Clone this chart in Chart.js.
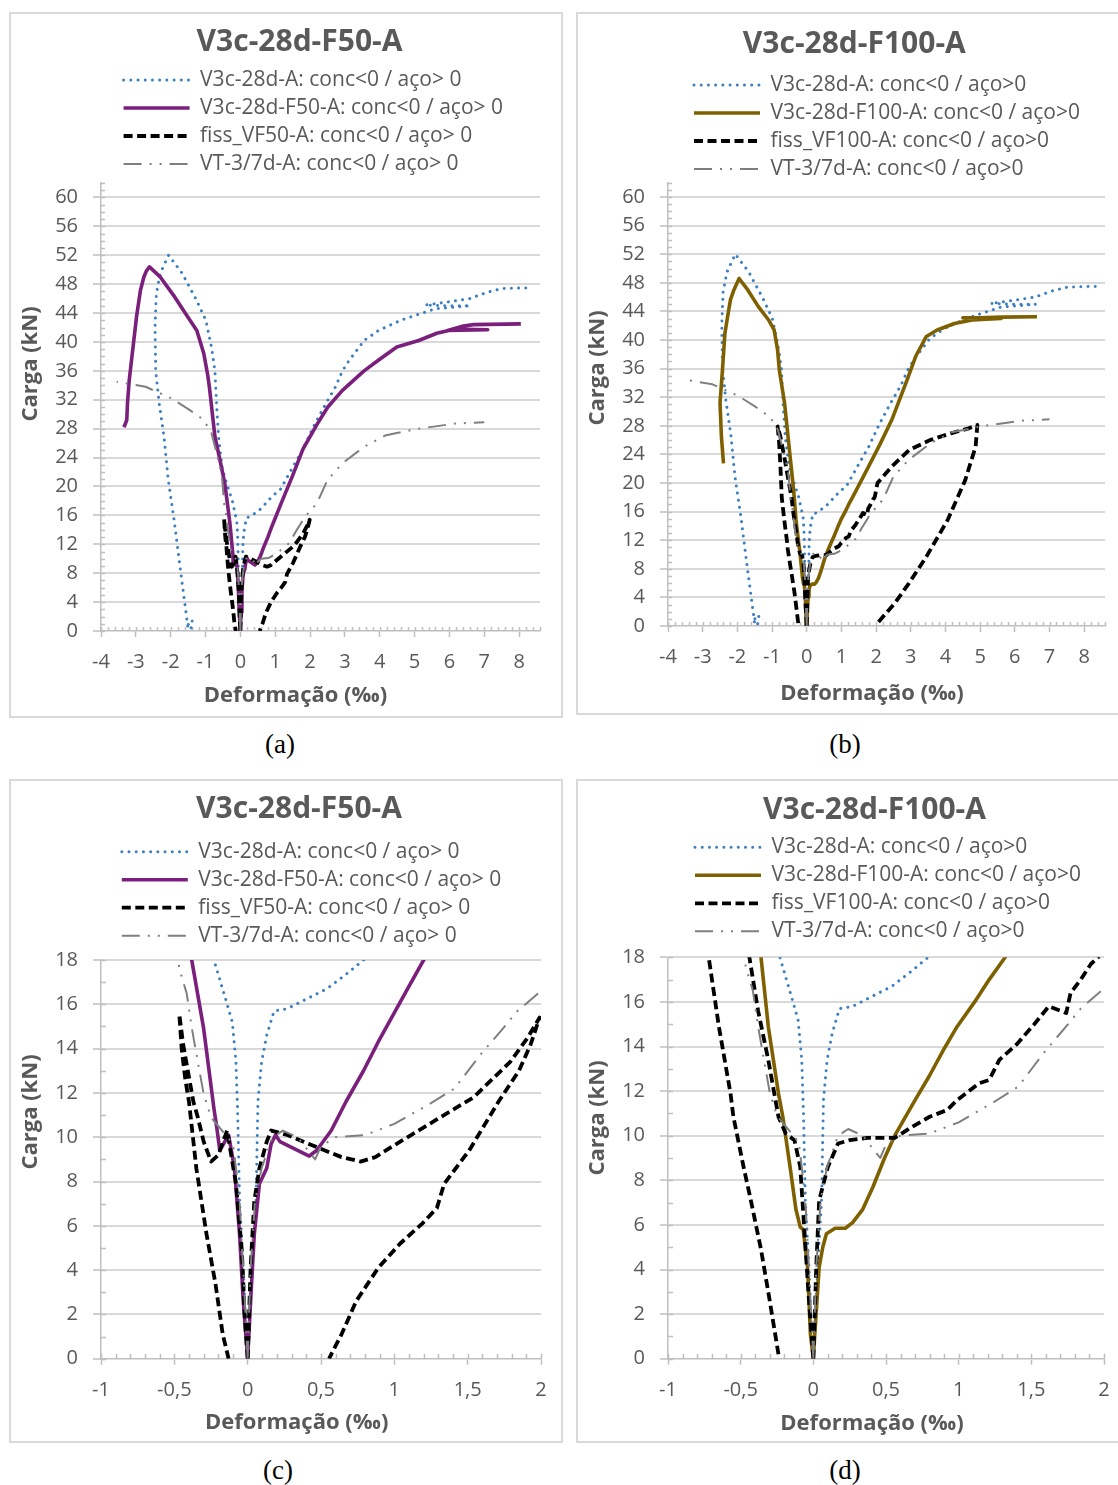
<!DOCTYPE html>
<html>
<head>
<meta charset="utf-8">
<script src="https://cdn.jsdelivr.net/npm/chart.js@4.4.1/dist/chart.umd.min.js"></script>
<style>
  html, body { margin: 0; padding: 0; background: #fff; }
  body { position: relative; width: 1118px; height: 1485px; overflow: hidden; }
  canvas { position: absolute; display: block; }
  .frame { position: absolute; box-sizing: border-box; border: 2px solid #d9d9d9; pointer-events: none; }
  .cap { position: absolute; width: 80px; text-align: center; font-family: 'Liberation Serif', 'Times New Roman', serif;
         font-size: 27px; line-height: 30px; color: #000; }
</style>
</head>
<body>
<canvas id="ca" width="552" height="705" style="left:10px;top:12px"></canvas>
<canvas id="cb" width="545" height="702" style="left:577px;top:12px"></canvas>
<canvas id="cc" width="552" height="663" style="left:10px;top:779px"></canvas>
<canvas id="cd" width="545" height="663" style="left:577px;top:779px"></canvas>
<div class="frame" style="left:9px;top:12px;width:554px;height:706px"></div>
<div class="frame" style="left:576px;top:12px;width:560px;height:703px"></div>
<div class="frame" style="left:9px;top:779px;width:554px;height:664px"></div>
<div class="frame" style="left:576px;top:779px;width:560px;height:664px"></div>
<div class="cap" style="left:240px;top:729px">(a)</div>
<div class="cap" style="left:805px;top:729px">(b)</div>
<div class="cap" style="left:238px;top:1455px">(c)</div>
<div class="cap" style="left:805px;top:1455px">(d)</div>

<script>
// ---- Tick values -------------------------------------------------------
const fullXTicks = [-4, -3, -2, -1, 0, 1, 2, 3, 4, 5, 6, 7, 8];
const fullYTicks = [0, 4, 8, 12, 16, 20, 24, 28, 32, 36, 40, 44, 48, 52, 56, 60];
const zoomXTicks = [-1, -0.5, 0, 0.5, 1, 1.5, 2];
const zoomYTicks = [0, 2, 4, 6, 8, 10, 12, 14, 16, 18];

// ---- Load (kN) vs strain (‰): [strain, load] --------------------------
// Reference beam V3c-28d-A, concrete gauge (negative) and steel gauge (positive)
const refConcrete = [[0,0],[-0.01,1.0],[-0.03,4.1],[-0.055,7.1],[-0.068,11.0],[-0.08,13.4],[-0.105,15.2],[-0.14,16.0],
  [-0.23,18.0],[-0.4,20.5],[-0.52,22.5],[-0.62,26.5],[-0.68,31.0],[-0.73,36.0],[-0.83,39.3],[-0.99,43.0],[-1.26,45.8],
  [-1.67,49.5],[-2.06,52.0],[-2.3,49.5],[-2.41,46.7],[-2.45,42.0],[-2.43,36.0],[-2.33,31.5],[-2.19,26.8],[-2.07,20.9],
  [-1.9,15.3],[-1.72,8.4],[-1.57,2.9],[-1.5,0.3],[-1.49,1.4],[-1.38,1.4],[-1.42,0.2]];
const refSteel = [[0,0],[0.01,1.0],[0.03,4.1],[0.057,7.1],[0.07,11.6],[0.095,13.4],[0.13,14.6],[0.18,15.7],[0.27,15.8],
  [0.42,16.3],[0.54,16.7],[0.67,17.35],[0.79,18.0],[0.95,18.8],[1.15,19.6],[1.46,22.3],[1.78,25.0],[2.09,28.2],[2.4,31.0],
  [2.72,33.7],[2.93,36.0],[3.13,37.5],[3.55,40.2],[3.97,41.6],[4.6,43.0],[5.22,44.0],[5.6,44.6],[6.6,45.0],[6.0,45.0],
  [5.3,45.1],[5.9,45.5],[6.58,46.0],[7.1,46.9],[7.52,47.4],[8.36,47.5]];

// Beam VT-3/7d-A
const vtConcrete = [[0,0],[-0.03,4.0],[-0.055,7.1],[-0.08,8.6],[-0.1,9.7],[-0.15,10.1],[-0.25,10.9],[-0.3,11.95],[-0.34,13.4],
  [-0.38,14.9],[-0.416,16.5],[-0.466,17.6],[-0.52,20.9],[-0.6,23.0],[-0.68,24.6],[-0.83,27.4],[-1.05,29.2],[-1.46,30.6],
  [-1.98,32.2],[-2.72,33.8],[-3.55,34.5]];
const vtSteel = [[0,0],[0.02,4.1],[0.05,7.1],[0.095,8.6],[0.17,10.0],[0.24,10.3],[0.34,10.0],[0.46,9.0],[0.5,9.6],[0.6,10.0],
  [0.8,10.1],[1.0,10.6],[1.24,11.5],[1.41,12.2],[1.59,13.75],[1.74,14.9],[1.84,15.7],[2.0,16.6],[2.2,17.7],[2.5,20.9],
  [2.93,23.2],[3.55,25.5],[4.18,27.1],[5.12,28.0],[6.16,28.7],[7.0,28.9]];

// Beam V3c-28d-F50-A
const f50Concrete = [[0,0],[-0.03,2.6],[-0.055,5.6],[-0.09,8.6],[-0.13,10.1],[-0.19,9.4],[-0.21,10.4],[-0.23,11.3],[-0.3,14.9],
  [-0.38,17.95],[-0.45,20.5],[-0.6,24.0],[-0.73,26.9],[-0.89,33.8],[-0.94,35.5],[-1.05,38.4],[-1.25,41.6],[-1.57,43.9],
  [-1.88,46.2],[-2.3,49.0],[-2.61,50.4],[-2.7,49.8],[-2.77,49.0],[-2.87,47.1],[-2.98,43.5],[-3.08,39.3],[-3.19,34.7],
  [-3.24,31.5],[-3.26,29.2],[-3.34,28.2]];
const f50Steel = [[0,0],[0.02,2.6],[0.045,5.6],[0.08,7.9],[0.13,8.6],[0.16,9.7],[0.19,10.1],[0.22,9.8],[0.42,9.15],[0.47,9.4],
  [0.57,10.3],[0.67,11.6],[0.79,13.0],[0.89,14.3],[0.99,15.5],[1.09,16.7],[1.2,18.0],[1.5,21.5],[1.8,25.2],[2.2,28.6],
  [2.51,31.0],[2.93,33.3],[3.55,36.0],[3.97,37.5],[4.49,39.3],[5.12,40.2],[5.64,41.2],[6.16,41.8],[7.1,41.7],[5.95,41.6],
  [6.4,42.2],[6.69,42.4],[8.05,42.5]];

// Cracked beam fiss_VF50-A (loading and unloading)
const fiss50Concrete = [[0,0],[-0.02,1.9],[-0.04,4.9],[-0.08,7.9],[-0.14,10.3],[-0.2,9.2],[-0.25,8.9],[-0.3,9.8],[-0.34,10.9],
  [-0.37,11.6],[-0.4,12.7],[-0.44,14.2],[-0.466,15.55],[-0.45,14.0],[-0.425,12.6],[-0.4,11.6],[-0.35,8.6],[-0.28,5.6],
  [-0.22,3.4],[-0.17,1.1],[-0.13,0]];
const fiss50Steel = [[0,0],[0.02,4.1],[0.045,7.1],[0.08,8.6],[0.13,9.8],[0.16,10.3],[0.27,10.1],[0.49,9.5],[0.64,9.1],
  [0.77,8.9],[0.87,9.1],[1.04,9.8],[1.29,10.8],[1.54,11.8],[1.79,13.4],[1.91,14.5],[1.99,15.4],[1.93,14.2],[1.85,13.0],
  [1.71,11.6],[1.51,9.4],[1.34,7.9],[1.29,6.8],[1.19,6.1],[1.04,5.2],[0.89,4.1],[0.74,2.6],[0.64,1.1],[0.555,0]];

// Beam V3c-28d-F100-A
const f100Concrete = [[0,0],[-0.02,1.1],[-0.04,4.1],[-0.07,5.8],[-0.09,5.9],[-0.12,6.7],[-0.16,8.6],[-0.21,10.85],[-0.24,11.9],
  [-0.31,14.9],[-0.36,18.0],[-0.42,21.0],[-0.49,24.2],[-0.64,31.2],[-0.79,35.8],[-0.84,38.6],[-0.94,41.4],[-1.1,42.8],
  [-1.4,44.7],[-1.7,47.0],[-1.95,48.6],[-2.1,47.0],[-2.2,45.6],[-2.25,44.2],[-2.36,40.9],[-2.43,35.8],[-2.5,31.2],
  [-2.46,26.5],[-2.4,22.75]];
const f100Steel = [[0,0],[0.01,1.1],[0.04,4.1],[0.065,5.0],[0.09,5.6],[0.15,5.85],[0.22,5.85],[0.27,6.1],[0.34,6.7],[0.41,7.7],
  [0.49,9.0],[0.56,10.0],[0.63,10.8],[0.7,11.6],[0.8,12.7],[0.9,13.9],[0.99,14.9],[1.11,16.0],[1.21,17.0],[1.32,18.0],
  [1.73,21.8],[2.1,25.3],[2.45,28.8],[2.9,34.5],[3.15,37.8],[3.45,40.5],[3.76,41.4],[4.26,42.3],[4.77,42.8],[5.6,43.0],
  [4.5,43.1],[5.0,43.1],[5.6,43.2],[6.64,43.25]];

// Cracked beam fiss_VF100-A (loading and unloading)
const fiss100Concrete = [[0,0],[-0.03,2.6],[-0.06,5.6],[-0.09,8.6],[-0.13,9.8],[-0.19,10.1],[-0.24,10.85],[-0.31,13.4],
  [-0.38,15.6],[-0.44,18.0],[-0.55,21.0],[-0.66,24.0],[-0.76,26.5],[-0.84,27.9],[-0.8,26.0],[-0.76,22.5],[-0.72,18.0],
  [-0.65,14.9],[-0.57,11.9],[-0.55,10.85],[-0.48,8.6],[-0.43,7.1],[-0.36,4.9],[-0.3,2.6],[-0.24,0.2]];
const fiss100Steel = [[0,0],[0.01,2.0],[0.02,4.1],[0.04,7.1],[0.1,8.6],[0.17,9.65],[0.25,9.8],[0.37,9.9],[0.56,9.9],
  [0.68,10.4],[0.8,10.85],[0.92,11.15],[0.99,11.6],[1.14,12.35],[1.21,12.5],[1.28,13.4],[1.4,14.1],[1.52,15.0],[1.62,15.8],
  [1.74,15.5],[1.77,16.4],[1.84,17.0],[1.91,17.7],[1.96,18.0],[2.04,20.0],[2.45,22.3],[2.95,24.6],[3.55,26.0],[4.16,26.95],
  [4.67,27.65],[4.92,28.1],[4.87,25.1],[4.57,20.4],[4.06,14.8],[3.45,9.7],[2.95,6.0],[2.54,3.2],[2.04,0.4]];

// ---- Series names -----------------------------------------------------
const namesF50 = ['V3c-28d-A: conc<0 / aço> 0', 'V3c-28d-F50-A: conc<0 / aço> 0',
                  'fiss_VF50-A: conc<0 / aço> 0', 'VT-3/7d-A: conc<0 / aço> 0'];
const namesF100 = ['V3c-28d-A: conc<0 / aço>0', 'V3c-28d-F100-A: conc<0 / aço>0',
                   'fiss_VF100-A: conc<0 / aço>0', 'VT-3/7d-A: conc<0 / aço>0'];

// ---- Styling ----------------------------------------------------------
const TEXT = '#595959';
const FONT = "'Open Sans', 'Noto Sans', sans-serif";
const AXIS = '#bfbfbf';
const GRID = '#d9d9d9';
const styles = {
  ref:  { color: '#3a7fc1', width: 3,   dash: [0.01, 7.2], cap: 'round' },
  f50:  { color: '#7a1f7c', width: 3.6, dash: [], cap: 'butt' },
  f100: { color: '#7f6000', width: 3.6, dash: [], cap: 'butt' },
  fiss: { color: '#000000', width: 3.8, dash: [9, 4.5], cap: 'butt' },
  vt:   { color: '#7f7f7f', width: 2,   dash: [18, 8, 2, 8, 2, 8], cap: 'butt' }
};

// Two gauge branches in one series, broken between them
function joinBranches(...branches) {
  const out = [];
  branches.forEach((b, k) => {
    if (k) out.push({ x: b[0][0], y: null });
    b.forEach(([x, y]) => out.push({ x, y }));
  });
  return out;
}

const seriesF50 = [
  { label: namesF50[0], data: joinBranches(refConcrete, refSteel), style: styles.ref },
  { label: namesF50[1], data: joinBranches(f50Concrete, f50Steel), style: styles.f50 },
  { label: namesF50[2], data: joinBranches(fiss50Concrete, fiss50Steel), style: styles.fiss },
  { label: namesF50[3], data: joinBranches(vtConcrete, vtSteel), style: styles.vt }
];
const seriesF100 = [
  { label: namesF100[0], data: joinBranches(refConcrete, refSteel), style: styles.ref },
  { label: namesF100[1], data: joinBranches(f100Concrete, f100Steel), style: styles.f100 },
  { label: namesF100[2], data: joinBranches(fiss100Concrete, fiss100Steel), style: styles.fiss },
  { label: namesF100[3], data: joinBranches(vtConcrete, vtSteel), style: styles.vt }
];

const fmt = v => String(v).replace('.', ',');

// Places title, legend block and axis titles at fixed spots of each panel
const placePlugin = {
  id: 'place',
  afterLayout(chart, args, o) {
    const t = chart.titleBlock;
    if (t) {
      t.left = o.titleX - 220; t.right = o.titleX + 220; t.width = 440;
      t.top = o.titleY - o.titleLine / 2; t.bottom = t.top + o.titleLine;
    }
    const lg = chart.legend;
    if (lg) {
      lg.left = o.legendX - o.legendPad;
      lg.top = o.legendY - o.legendPad - o.legendFont / 2;
    }
    const shifts = { x: { dx: o.xTitleDx, dy: 0 }, y: { dx: 0, dy: o.yTitleDy } };
    Object.keys(shifts).forEach(id => {
      const s = chart.scales[id];
      if (!s) return;
      s._titleShift = shifts[id];
      if (!s._titleWrapped) {
        const orig = s.drawTitle;
        s.drawTitle = function () {
          const c = this.ctx;
          c.save();
          c.translate(this._titleShift.dx, this._titleShift.dy);
          orig.apply(this, arguments);
          c.restore();
        };
        s._titleWrapped = true;
      }
    });
  }
};

// Minor tick marks on the inner side of both axes
const minorTicksPlugin = {
  id: 'minorTicks',
  beforeDatasetsDraw(chart, args, o) {
    const { ctx, chartArea: a, scales: { x, y } } = chart;
    ctx.save();
    ctx.strokeStyle = o.color;
    ctx.lineWidth = o.width;
    ctx.beginPath();
    const nx = Math.round((x.max - x.min) / o.xStep);
    for (let i = 0; i <= nx; i++) {
      const px = Math.round(x.getPixelForValue(x.min + i * o.xStep)) + 0.5;
      ctx.moveTo(px, a.bottom);
      ctx.lineTo(px, a.bottom - o.len);
    }
    const ny = Math.round((y.max - y.min) / o.yStep);
    for (let j = 0; j <= ny; j++) {
      const py = Math.round(y.getPixelForValue(y.min + j * o.yStep)) + 0.5;
      ctx.moveTo(a.left, py);
      ctx.lineTo(a.left + o.len, py);
    }
    ctx.stroke();
    ctx.restore();
  }
};

const panels = [
  { canvas: 'ca', w: 552, h: 705, area: { l: 91, r: 530, t: 171, b: 619 }, title: 'V3c-28d-F50-A',
    titleX: 289.5, titleY: 30.5, legendX: 113.6, legendY: 68, xTitleY: 684, xTitleCx: 285.5, yTitleCy: 352,
    xRange: [-4, 8.6], yRange: [0, 62], xTicks: fullXTicks, yTicks: fullYTicks,
    minor: { xStep: 0.2, yStep: 1, len: 4 }, series: seriesF50 },
  { canvas: 'cb', w: 545, h: 702, area: { l: 91, r: 528, t: 170.7, b: 614 }, title: 'V3c-28d-F100-A',
    titleX: 277.3, titleY: 32, legendX: 117, legendY: 73, xTitleY: 682, xTitleCx: 295, yTitleCy: 356,
    xRange: [-4, 8.6], yRange: [0, 62], xTicks: fullXTicks, yTicks: fullYTicks,
    minor: { xStep: 0.2, yStep: 1, len: 4 }, series: seriesF100 },
  { canvas: 'cc', w: 552, h: 663, area: { l: 91, r: 531, t: 181, b: 579.7 }, title: 'V3c-28d-F50-A',
    titleX: 289, titleY: 30, legendX: 111.8, legendY: 72.7, xTitleY: 644, xTitleCx: 286.7, yTitleCy: 333,
    xRange: [-1, 2], yRange: [0, 18], xTicks: zoomXTicks, yTicks: zoomYTicks,
    minor: { xStep: 0.1, yStep: 1, len: 5 }, series: seriesF50 },
  { canvas: 'cd', w: 545, h: 663, area: { l: 91, r: 527, t: 178.3, b: 579.7 }, title: 'V3c-28d-F100-A',
    titleX: 297.5, titleY: 31, legendX: 118, legendY: 68.3, xTitleY: 645, xTitleCx: 295, yTitleCy: 339,
    xRange: [-1, 2], yRange: [0, 18], xTicks: zoomXTicks, yTicks: zoomYTicks,
    minor: { xStep: 0.1, yStep: 1, len: 5 }, series: seriesF100 }
];

const TITLE_SIZE = 30, TITLE_LINE = 36;
const LEGEND_SIZE = 21, LEGEND_PAD = 7;
const AXIS_TITLE_SIZE = 22, AXIS_TITLE_LINE = 26.4;
const TICK_SIZE = 20;

function buildPanel(p) {
  const a = p.area;
  const legendHeight = 4 * (LEGEND_SIZE + LEGEND_PAD) + 10;
  const xHeight = p.xTitleY - a.b + AXIS_TITLE_LINE / 2;
  const datasets = p.series.map((s, i) => ({
    label: s.label,
    data: s.data,
    borderColor: s.style.color,
    backgroundColor: s.style.color,
    borderWidth: s.style.width,
    borderDash: s.style.dash,
    borderCapStyle: s.style.cap,
    borderJoinStyle: 'round',
    pointRadius: 0,
    pointHoverRadius: 0,
    fill: false,
    tension: 0,
    spanGaps: false,
    order: p.series.length - i
  }));

  new Chart(document.getElementById(p.canvas), {
    type: 'line',
    data: { datasets },
    options: {
      responsive: false,
      animation: false,
      devicePixelRatio: 1,
      events: [],
      layout: {
        autoPadding: false,
        padding: { left: 0, right: p.w - a.r, top: a.t - TITLE_LINE - legendHeight, bottom: p.h - a.b - xHeight }
      },
      plugins: {
        tooltip: { enabled: false },
        title: {
          display: true, text: p.title, color: TEXT, padding: 0,
          font: { family: FONT, size: TITLE_SIZE, weight: 'bold', lineHeight: TITLE_LINE / TITLE_SIZE }
        },
        legend: {
          display: true, position: 'top', align: 'start',
          labels: {
            usePointStyle: true, pointStyleWidth: 66, padding: LEGEND_PAD, color: TEXT,
            font: { family: FONT, size: LEGEND_SIZE },
            generateLabels: chart => chart.data.datasets.map((ds, i) => ({
              text: ds.label,
              datasetIndex: i,
              hidden: false,
              pointStyle: 'line',
              fillStyle: 'rgba(0,0,0,0)',
              strokeStyle: ds.borderColor,
              lineWidth: ds.borderWidth,
              lineDash: ds.borderDash,
              lineCap: ds.borderCapStyle,
              fontColor: TEXT
            }))
          }
        },
        place: {
          titleX: p.titleX, titleY: p.titleY, titleLine: TITLE_LINE,
          legendX: p.legendX, legendY: p.legendY, legendPad: LEGEND_PAD, legendFont: LEGEND_SIZE,
          xTitleDx: p.xTitleCx - (a.l + a.r) / 2,
          yTitleDy: p.yTitleCy - (a.t + a.b) / 2
        },
        minorTicks: { color: AXIS, width: 1.5, xStep: p.minor.xStep, yStep: p.minor.yStep, len: p.minor.len }
      },
      scales: {
        x: {
          type: 'linear', position: 'bottom', min: p.xRange[0], max: p.xRange[1],
          afterBuildTicks: s => { s.ticks = p.xTicks.map(v => ({ value: v })); },
          afterFit: s => { s.height = xHeight; s.paddingLeft = s.paddingRight = s.paddingTop = s.paddingBottom = 0; },
          ticks: { autoSkip: false, maxRotation: 0, padding: 13.5, color: TEXT,
                   font: { family: FONT, size: TICK_SIZE }, callback: v => fmt(v) },
          grid: { drawOnChartArea: false, drawTicks: true, tickLength: 6, tickColor: AXIS, tickWidth: 1.5 },
          border: { display: true, color: AXIS, width: 1.5 },
          title: { display: true, text: 'Deformação (‰)', color: TEXT, padding: 0,
                   font: { family: FONT, size: AXIS_TITLE_SIZE, weight: 'bold' } }
        },
        y: {
          type: 'linear', position: 'left', min: p.yRange[0], max: p.yRange[1],
          afterBuildTicks: s => { s.ticks = p.yTicks.map(v => ({ value: v })); },
          afterFit: s => { s.width = a.l; s.paddingLeft = s.paddingRight = s.paddingTop = s.paddingBottom = 0; },
          ticks: { autoSkip: false, padding: 15, color: TEXT,
                   font: { family: FONT, size: TICK_SIZE }, callback: v => fmt(v) },
          grid: {
            drawOnChartArea: true, drawTicks: true, tickLength: 8, tickColor: AXIS, tickWidth: 1.5,
            lineWidth: 2, color: c => (c.tick && c.tick.value === 0) ? 'rgba(0,0,0,0)' : GRID
          },
          border: { display: true, color: AXIS, width: 1.5 },
          title: { display: true, text: 'Carga (kN)', color: TEXT, padding: { top: 7.8, bottom: 0 },
                   font: { family: FONT, size: AXIS_TITLE_SIZE, weight: 'bold' } }
        }
      }
    },
    plugins: [placePlugin, minorTicksPlugin]
  });
}

panels.forEach(buildPanel);
</script>
</body>
</html>
